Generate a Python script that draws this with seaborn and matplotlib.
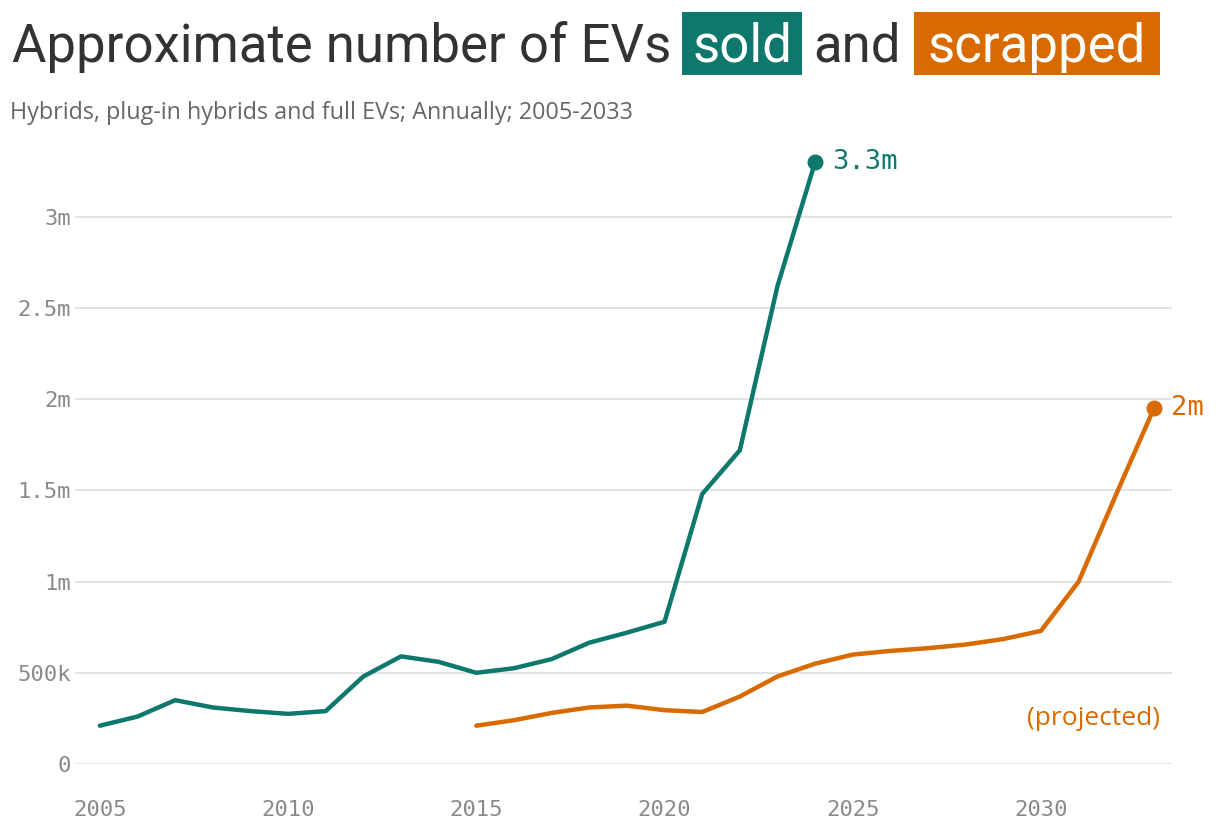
import matplotlib
matplotlib.use("Agg")
import matplotlib.pyplot as plt
from matplotlib.patches import Rectangle
import pandas as pd
import seaborn as sns

# Data (millions of vehicles)
sold_years = list(range(2005, 2025))
sold_values = [0.21, 0.26, 0.35, 0.31, 0.29, 0.275, 0.29, 0.48, 0.59, 0.56,
               0.50, 0.525, 0.575, 0.665, 0.72, 0.78, 1.48, 1.72, 2.62, 3.30]

scrapped_years = list(range(2015, 2034))
scrapped_values = [0.21, 0.24, 0.28, 0.31, 0.32, 0.295, 0.285, 0.37, 0.48, 0.55,
                   0.60, 0.62, 0.635, 0.655, 0.685, 0.73, 1.00, 1.48, 1.95]

y_ticks = [0, 0.5, 1, 1.5, 2, 2.5, 3]
y_labels = ["0", "500k", "1m", "1.5m", "2m", "2.5m", "3m"]
x_ticks = [2005, 2010, 2015, 2020, 2025, 2030]

TEAL = "#0e786c"
ORANGE = "#d96a00"
GRID = "#e3e3e3"
MONO = "DejaVu Sans Mono"
SANS = ["Roboto", "DejaVu Sans"]
WIDE = ["Open Sans", "DejaVu Sans"]

df = pd.concat([
    pd.DataFrame({"year": sold_years, "value": sold_values, "kind": "sold"}),
    pd.DataFrame({"year": scrapped_years, "value": scrapped_values, "kind": "scrapped"}),
])

sns.set_theme(style="white")
plt.rcParams["font.family"] = SANS

W, H = 1220, 832
fig = plt.figure(figsize=(W / 100, H / 100), dpi=100)
fig.patch.set_facecolor("white")

# axes placed in pixel terms: x from 75 to 1172, y zero at 764, top at 3.4m
y_top = 3.4
px_per_m = 182.4
ax_bottom_px = 764
ax_top_px = ax_bottom_px - y_top * px_per_m
ax = fig.add_axes([75 / W, (H - ax_bottom_px) / H, (1172 - 75) / W,
                   (ax_bottom_px - ax_top_px) / H])

sns.lineplot(data=df, x="year", y="value", hue="kind",
             palette={"sold": TEAL, "scrapped": ORANGE},
             linewidth=3.2, legend=False, ax=ax,
             solid_joinstyle="round", solid_capstyle="round")

# endpoint dots and labels
last_sold = (sold_years[-1], sold_values[-1])
last_scr = (scrapped_years[-1], scrapped_values[-1])
ax.scatter(*last_sold, s=110, color=TEAL, zorder=5, clip_on=False)
ax.scatter(*last_scr, s=110, color=ORANGE, zorder=5, clip_on=False)
ax.annotate(f"{last_sold[1]:.1f}m", last_sold, xytext=(12, 0), textcoords="offset points",
            va="center", ha="left", color=TEAL, fontsize=19.5, family=MONO)
ax.annotate(f"{last_scr[1]:.0f}m", last_scr, xytext=(12, 0), textcoords="offset points",
            va="center", ha="left", color=ORANGE, fontsize=19.5, family=MONO,
            annotation_clip=False)
ax.text(2033.15, 0.25, "(projected)", ha="right", va="center", color=ORANGE,
        fontsize=19, family=WIDE)

ax.set_xlim(2004.34, 2033.48)
ax.set_ylim(0, y_top)
ax.set_yticks(y_ticks)
ax.set_yticklabels(y_labels)
ax.set_xticks(x_ticks)
ax.set_xlabel("")
ax.set_ylabel("")
ax.grid(axis="y", color=GRID, linewidth=1.4)
ax.set_axisbelow(True)
for s in ax.spines.values():
    s.set_visible(False)
ax.tick_params(axis="y", length=0, pad=3, labelsize=16, labelcolor="#8a8a8a")
ax.tick_params(axis="x", length=17, width=1.4, color=GRID, pad=9,
               labelsize=16, labelcolor="#8a8a8a")
for lab in ax.get_xticklabels() + ax.get_yticklabels():
    lab.set_family(MONO)

# title with highlighted words
def fy(px):
    return (H - px) / H

title_size = 38
fig.text(12 / W, fy(62), "Approximate number of EVs", fontsize=title_size,
         color="#333333", va="baseline", ha="left")
fig.add_artist(Rectangle((682 / W, fy(75)), (802 - 682) / W, 63 / H,
                         transform=fig.transFigure, color=TEAL, lw=0))
fig.text(742 / W, fy(62), "sold", fontsize=title_size, color="white",
         va="baseline", ha="center")
fig.text(813 / W, fy(62), "and", fontsize=title_size, color="#333333",
         va="baseline", ha="left")
fig.add_artist(Rectangle((914 / W, fy(75)), (1160 - 914) / W, 63 / H,
                         transform=fig.transFigure, color=ORANGE, lw=0))
fig.text(1037 / W, fy(62), "scrapped", fontsize=title_size, color="white",
         va="baseline", ha="center")

fig.text(10 / W, fy(119), "Hybrids, plug-in hybrids and full EVs; Annually; 2005-2033",
         fontsize=16.8, color="#666666", va="baseline", ha="left", family=WIDE)

fig.savefig("out.png", dpi=100, facecolor="white")
